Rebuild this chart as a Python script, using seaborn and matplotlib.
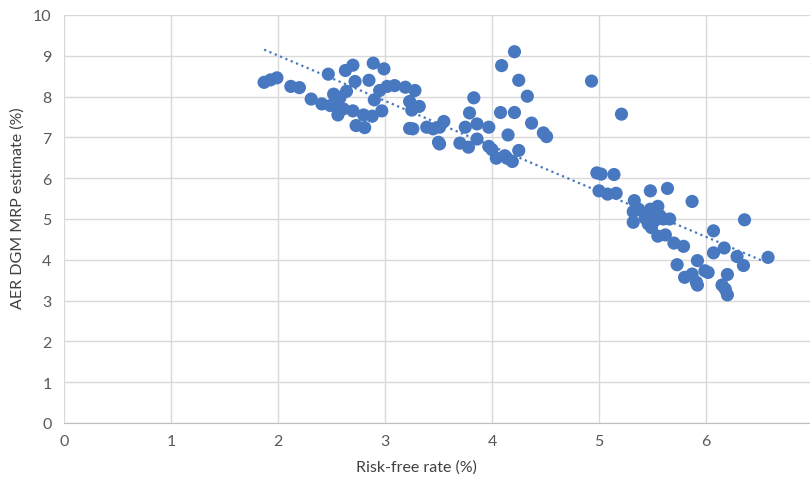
import pandas as pd
import matplotlib.pyplot as plt
import seaborn as sns

# Values
rfr = [1.87, 1.93, 1.99, 2.12, 2.20, 2.31, 2.41, 2.47, 2.49, 2.52, 2.54, 2.56, 2.58, 2.61,
       2.63, 2.64, 2.70, 2.72, 2.70, 2.73, 2.80, 2.81, 2.85, 2.89, 2.90, 2.88, 2.97, 2.95,
       2.99, 3.02, 3.09, 3.19, 3.28, 3.23, 3.25, 3.32, 3.23, 3.26, 3.39, 3.45, 3.51, 3.55,
       3.50, 3.51, 3.70, 3.78, 3.75, 3.79, 3.83, 3.86, 3.86, 3.97, 3.97, 4.00, 4.04, 4.09,
       4.08, 4.12, 4.14, 4.15, 4.19, 4.21, 4.21, 4.25, 4.25, 4.33, 4.37, 4.48, 4.51, 4.93,
       5.21, 4.98, 5.02, 5.14, 5.00, 5.08, 5.16, 5.48, 5.64, 5.33, 5.32, 5.37, 5.32, 5.48,
       5.55, 5.43, 5.46, 5.49, 5.52, 5.57, 5.60, 5.50, 5.66, 5.55, 5.62, 5.70, 5.79, 5.73,
       5.80, 5.87, 5.92, 5.91, 5.92, 5.99, 6.02, 5.87, 6.07, 6.07, 6.17, 6.20, 6.15, 6.18,
       6.20, 6.29, 6.35, 6.36, 6.58]
mrp = [8.35, 8.41, 8.46, 8.25, 8.22, 7.94, 7.82, 8.55, 7.78, 8.06, 7.78, 7.55, 7.98, 7.70,
       8.64, 8.13, 8.77, 8.37, 7.65, 7.29, 7.55, 7.24, 8.40, 8.82, 7.92, 7.52, 7.65, 8.15,
       8.68, 8.25, 8.27, 8.23, 8.15, 7.88, 7.67, 7.76, 7.22, 7.21, 7.25, 7.21, 7.25, 7.39,
       6.88, 6.84, 6.86, 6.76, 7.25, 7.60, 7.97, 7.33, 6.96, 7.25, 6.78, 6.70, 6.49, 8.76,
       7.61, 6.55, 6.49, 7.06, 6.41, 7.61, 9.10, 8.40, 6.68, 8.01, 7.35, 7.11, 7.02, 8.38,
       7.57, 6.13, 6.10, 6.09, 5.69, 5.61, 5.63, 5.69, 5.75, 5.45, 5.18, 5.24, 4.92, 5.24,
       5.31, 5.02, 4.88, 4.79, 4.96, 5.08, 5.00, 5.12, 5.00, 4.58, 4.61, 4.41, 4.33, 3.88,
       3.57, 3.65, 3.98, 3.45, 3.38, 3.73, 3.69, 5.43, 4.71, 4.17, 4.29, 3.64, 3.38, 3.28,
       3.14, 4.08, 3.86, 4.98, 4.06]

df = pd.DataFrame({"Risk-free rate (%)": rfr, "AER DGM MRP estimate (%)": mrp})

sns.set_style("white")
plt.rcParams["font.family"] = ["Lato", "DejaVu Sans"]

blue = "#4878C0"
fig = plt.figure(figsize=(8.1, 4.85), dpi=100)
ax = fig.add_axes([64 / 810, 61 / 485, 749 / 810, 408 / 485])

sns.scatterplot(data=df, x="Risk-free rate (%)", y="AER DGM MRP estimate (%)",
                color=blue, s=90, edgecolor="none", ax=ax, zorder=3)
# dotted linear trendline
sns.regplot(data=df, x="Risk-free rate (%)", y="AER DGM MRP estimate (%)",
            scatter=False, ci=None, truncate=True, ax=ax,
            line_kws={"color": blue, "lw": 1.6, "linestyle": (0, (1, 1.6)), "zorder": 4})

ax.set_xlim(0, 7)
ax.set_ylim(0, 10)
ax.set_xticks(range(0, 8))
ax.set_yticks(range(0, 11))
ax.grid(True, color="#d9d9d9", lw=1)
ax.set_axisbelow(True)
for side in ["top", "right", "left"]:
    ax.spines[side].set_visible(False)
ax.spines["bottom"].set_color("#bfbfbf")
ax.tick_params(length=0, labelsize=11.5, labelcolor="#595959")
ax.tick_params(axis="y", pad=9)
ax.tick_params(axis="x", pad=8)
ax.set_xlabel("Risk-free rate (%)", fontsize=11.5, color="#404040")
ax.set_ylabel("AER DGM MRP estimate (%)", fontsize=11.5, color="#404040")
ax.xaxis.set_label_coords(0.47, -0.09)
ax.yaxis.set_label_coords(-0.052, 0.53)

fig.savefig("out.png", dpi=100)
